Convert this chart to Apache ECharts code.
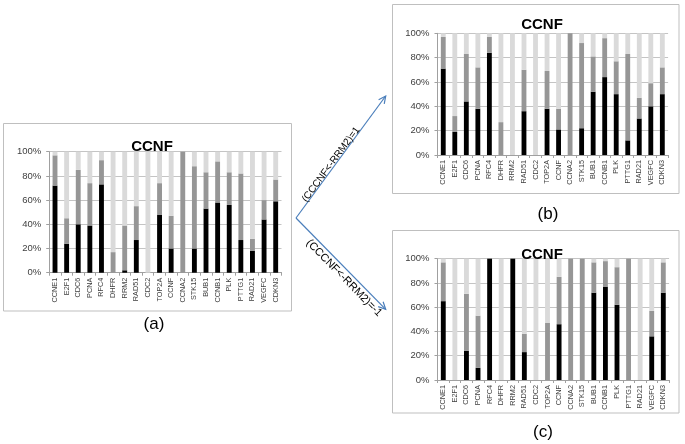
<!DOCTYPE html>
<html><head><meta charset="utf-8">
<script src="https://cdn.jsdelivr.net/npm/echarts@6/dist/echarts.min.js"></script>
<style>html,body{margin:0;padding:0;background:#fff}#c{width:685px;height:444px}</style>
</head><body><div id="c"></div>
<script>
const genes = ['CCNE1','E2F1','CDC6','PCNA','RFC4','DHFR','RRM2','RAD51','CDC2','TOP2A','CCNF','CCNA2','STK15','BUB1','CCNB1','PLK','PTTG1','RAD21','VEGFC','CDKN3'];
const yTicks = [0, 20, 40, 60, 80, 100];
// (a) black segment top and grey segment top (%)
const aBlack = [72,24,40,39,73,0,2,27,0,48,20,0,20,53,58,56,27,18,44,59];
const aTotal = [97,45,85,74,93,17,39,55,0,74,47,100,88,83,92,83,82,28,60,77];
// (b) (CCCNF<-RRM2)=1
const bBlack = [71,19,44,38,84,0,0,36,0,38,21,0,22,52,64,50,12,30,40,50];
const bTotal = [97,32,83,72,97,27,0,70,0,69,38,100,92,81,96,77,83,47,59,72];
// (c) (CCCNF<-RRM2)=-1
const cBlack = [65,0,24,10,100,0,100,23,0,0,46,0,0,72,77,62,0,0,36,72];
const cTotal = [97,0,71,53,100,0,100,38,0,47,85,100,100,97,98,93,100,0,57,97];

const titleText = 'CCNF';
const panelLabels = ['(a)', '(b)', '(c)'];
const arrowLabels = ['(CCCNF<-RRM2)=1', '(CCCNF<-RRM2)=-1'];

const chart = echarts.init(document.getElementById('c'), null, {renderer: 'canvas'});
const FONT = '"Liberation Sans", Arial, sans-serif';
const panels = [
  {black: aBlack, total: aTotal, grid: {left: 49.2, top: 151.7, width: 232.3, height: 121}, tx: 147, ty: 134, lx: 149, ly: 322},
  {black: bBlack, total: bTotal, grid: {left: 437.5, top: 33.3, width: 230.6, height: 121.7}, tx: 537, ty: 12, lx: 543, ly: 212},
  {black: cBlack, total: cTotal, grid: {left: 437.5, top: 258.7, width: 231.6, height: 121.3}, tx: 537, ty: 242, lx: 538, ly: 430}
];
const grids = [], xAxes = [], yAxes = [], series = [], titles = [];
panels.forEach((p, i) => {
  grids.push(Object.assign({outerBoundsMode: 'none', containLabel: false}, p.grid));
  xAxes.push({
    type: 'category', gridIndex: i, data: genes,
    axisLine: {lineStyle: {color: '#a0a0a0'}},
    axisTick: {show: true, length: 3, lineStyle: {color: '#a0a0a0'}},
    axisLabel: {rotate: 90, interval: 0, fontSize: 7.3, color: '#404040', margin: 5, fontFamily: FONT},
    splitLine: {show: false}
  });
  yAxes.push({
    type: 'value', gridIndex: i, min: yTicks[0], max: yTicks[yTicks.length - 1], interval: yTicks[1] - yTicks[0],
    axisLine: {show: true, lineStyle: {color: '#a0a0a0'}},
    axisTick: {show: true, length: 3, lineStyle: {color: '#a0a0a0'}},
    axisLabel: {formatter: '{value}%', fontSize: 9.5, color: '#404040', margin: 8, fontFamily: FONT},
    splitLine: {show: true, lineStyle: {color: '#c4c4c4', width: 1}}
  });
  const mid = p.total.map((t, k) => t - p.black[k]);
  const rest = p.total.map(t => 100 - t);
  const common = {type: 'bar', stack: 'p' + i, xAxisIndex: i, yAxisIndex: i, barWidth: '42%', silent: true, animation: false};
  series.push(Object.assign({name: 'black' + i, data: p.black, itemStyle: {color: '#000000'}}, common));
  series.push(Object.assign({name: 'grey' + i, data: mid, itemStyle: {color: '#969696'}}, common));
  series.push(Object.assign({name: 'light' + i, data: rest, itemStyle: {color: '#dadada'}}, common));
  titles.push({text: titleText, left: p.tx, top: p.ty, textAlign: 'center',
    textStyle: {fontSize: 15, fontWeight: 'bold', color: '#000', fontFamily: FONT}});
  titles.push({text: panelLabels[i], left: p.lx, top: p.ly - 11, textAlign: 'center',
    textStyle: {fontSize: 17, fontWeight: 'normal', color: '#000', fontFamily: FONT}});
});

// decorations: panel frames, arrows, arrow labels
const V = [296, 218], E1 = [385.7, 96], E2 = [385.7, 309.3];
function head(from, to) {
  const dx = to[0] - from[0], dy = to[1] - from[1], L = Math.hypot(dx, dy);
  const ux = dx / L, uy = dy / L, h = 8, a = 0.45;
  const c = Math.cos(a), s = Math.sin(a);
  const p1 = [to[0] - h * (ux * c - uy * s), to[1] - h * (uy * c + ux * s)];
  const p2 = [to[0] - h * (ux * c + uy * s), to[1] - h * (uy * c - ux * s)];
  return {type: 'polyline', shape: {points: [p1, to, p2]}, style: {stroke: '#4a7ebb', lineWidth: 1.2, fill: null}, silent: true};
}
const frame = (x, y, w, h) => ({type: 'rect', shape: {x, y, width: w, height: h}, style: {stroke: '#bfbfbf', fill: null, lineWidth: 1}, silent: true, z: -1});
const graphic = [
  frame(3.5, 123.5, 288, 187.5),
  frame(392.5, 4.5, 286.5, 189),
  frame(392.5, 230.5, 286.5, 182.5),
  {type: 'line', shape: {x1: V[0], y1: V[1], x2: E1[0], y2: E1[1]}, style: {stroke: '#4a7ebb', lineWidth: 1.2}, silent: true},
  {type: 'line', shape: {x1: V[0], y1: V[1], x2: E2[0], y2: E2[1]}, style: {stroke: '#4a7ebb', lineWidth: 1.2}, silent: true},
  head(V, E1), head(V, E2),
  {type: 'text', x: 331, y: 164.5, rotation: Math.atan2(V[1] - E1[1], E1[0] - V[0]),
    style: {text: arrowLabels[0], x: 0, y: 0, align: 'center', verticalAlign: 'middle', fill: '#000', font: '10px ' + FONT}, silent: true},
  {type: 'text', x: 344, y: 278, rotation: -Math.atan2(E2[1] - V[1], E2[0] - V[0]),
    style: {text: arrowLabels[1], x: 0, y: 0, align: 'center', verticalAlign: 'middle', fill: '#000', font: '11px ' + FONT}, silent: true}
];

chart.setOption({
  animation: false,
  backgroundColor: '#ffffff',
  title: titles,
  grid: grids, xAxis: xAxes, yAxis: yAxes, series: series,
  graphic: graphic
});
</script>
</body></html>
